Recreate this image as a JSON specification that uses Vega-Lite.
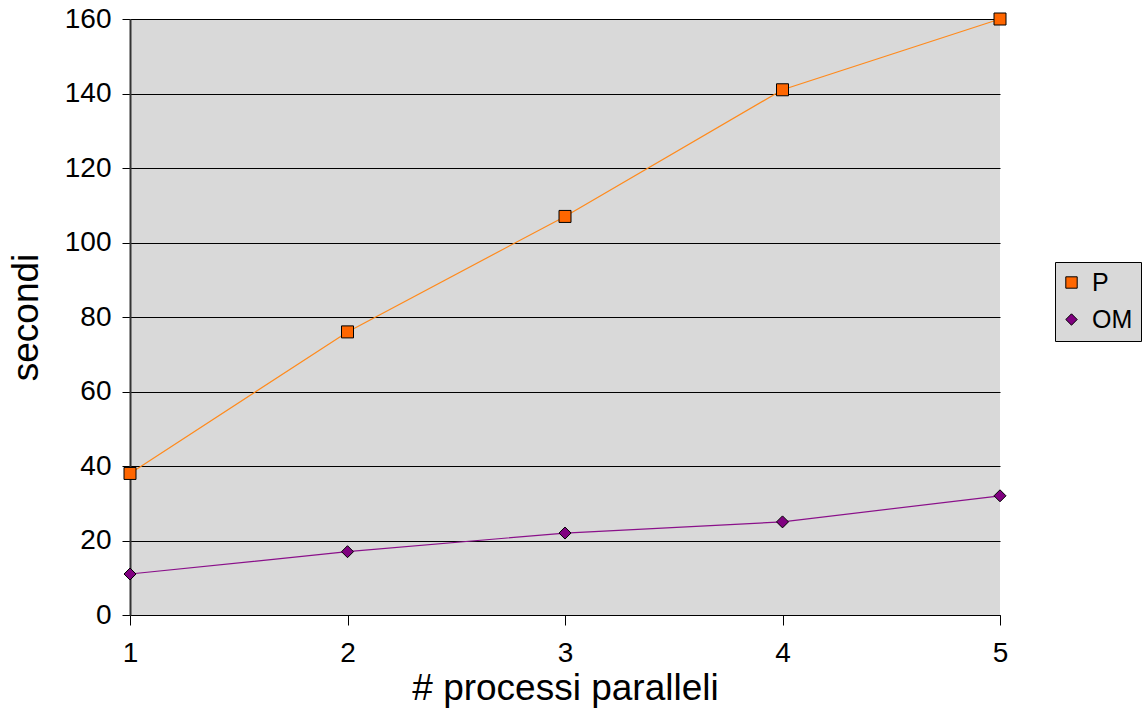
{
  "$schema": "https://vega.github.io/schema/vega-lite/v6.json",
  "width": 870,
  "height": 596,
  "autosize": {"type": "none"},
  "padding": {"left": 130, "top": 19, "right": 142, "bottom": 97},
  "background": "white",
  "config": {
    "font": "Liberation Sans",
    "view": {"fill": "#d9d9d9", "stroke": null},
    "axis": {"labelFont": "Liberation Sans", "titleFont": "Liberation Sans", "labelColor": "#000", "titleColor": "#000", "titleFontWeight": "normal", "labelFlush": false}
  },
  "data": {
    "values": [
      {"x": 1, "series": "P", "v": 38},
      {"x": 2, "series": "P", "v": 76},
      {"x": 3, "series": "P", "v": 107},
      {"x": 4, "series": "P", "v": 141},
      {"x": 5, "series": "P", "v": 160},
      {"x": 1, "series": "OM", "v": 11},
      {"x": 2, "series": "OM", "v": 17},
      {"x": 3, "series": "OM", "v": 22},
      {"x": 4, "series": "OM", "v": 25},
      {"x": 5, "series": "OM", "v": 32}
    ]
  },
  "encoding": {
    "x": {
      "field": "x", "type": "quantitative",
      "scale": {"domain": [1, 5], "nice": false, "zero": false},
      "axis": {"title": "# processi paralleli", "values": [1, 2, 3, 4, 5], "format": "d", "grid": false,
        "domainColor": "#000", "domainWidth": 1, "tickColor": "#000", "tickSize": 10,
        "labelFontSize": 28, "labelPadding": 14, "titleFontSize": 37, "titlePadding": 3}
    },
    "y": {
      "field": "v", "type": "quantitative",
      "scale": {"domain": [0, 160], "nice": false},
      "axis": {"title": "secondi", "values": [0, 20, 40, 60, 80, 100, 120, 140, 160], "grid": true,
        "gridColor": "#000", "gridWidth": 1, "gridOpacity": 1,
        "domainColor": "#333", "domainWidth": 2, "tickColor": "#000", "tickSize": 8,
        "labelFontSize": 28, "labelPadding": 11, "titleFontSize": 37, "titlePadding": 19}
    }
  },
  "layer": [
    {
      "mark": {"type": "line", "strokeWidth": 1.2},
      "encoding": {
        "stroke": {"field": "series", "type": "nominal",
          "scale": {"range": ["#8a108a", "#ff8a1c"]}, "legend": null}
      }
    },
    {
      "mark": {"type": "point", "filled": true, "stroke": "#000", "strokeWidth": 1, "opacity": 1, "size": 144},
      "encoding": {
        "color": {"field": "series", "type": "nominal",
          "scale": {"domain": ["P", "OM"], "range": ["#ff6600", "#800080"]},
          "legend": {"title": null, "orient": "none", "legendX": 925, "legendY": 243, "fillColor": "#d9d9d9", "strokeColor": "#000", "padding": 8, "rowPadding": 11,
            "labelFontSize": 25, "labelColor": "#000", "symbolSize": 130, "labelOffset": 8, "symbolOffset": -4,
            "symbolStrokeColor": "#000", "symbolStrokeWidth": 1}},
        "shape": {"field": "series", "type": "nominal",
          "scale": {"domain": ["P", "OM"], "range": ["square", "diamond"]},
          "legend": {"title": null, "orient": "none", "legendX": 925, "legendY": 243, "fillColor": "#d9d9d9", "strokeColor": "#000", "padding": 8, "rowPadding": 11,
            "labelFontSize": 25, "labelColor": "#000", "symbolSize": 130, "labelOffset": 8, "symbolOffset": -4,
            "symbolStrokeColor": "#000", "symbolStrokeWidth": 1}}
      }
    }
  ]
}
